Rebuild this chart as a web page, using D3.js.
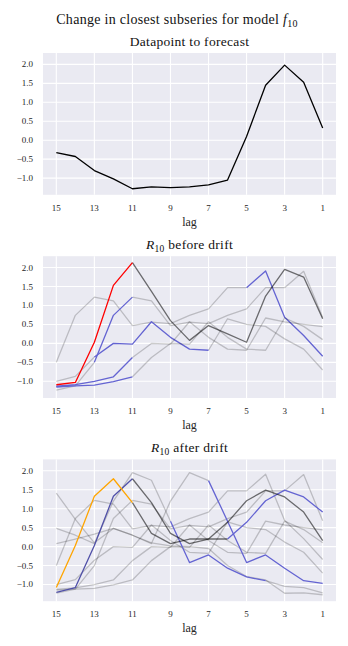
<!DOCTYPE html>
<html>
<head>
<meta charset="utf-8">
<script src="https://cdn.jsdelivr.net/npm/d3@7"></script>
<style>
  body { margin: 0; background: #fff; }
  svg { display: block; font-family: "Liberation Serif", "DejaVu Serif", serif; }
</style>
</head>
<body>
<svg width="348" height="646"></svg>
<script>
// lags shown left to right
const lags = d3.range(15, 0, -1);
const xTicks = [15, 13, 11, 9, 7, 5, 3, 1];
const yTicks = [-1.0, -0.5, 0.0, 0.5, 1.0, 1.5, 2.0];

// datapoint to forecast
const forecastPoint = [-0.33, -0.43, -0.8, -1.02, -1.28, -1.23, -1.25, -1.23, -1.18, -1.05, 0.1, 1.45, 1.98, 1.53, 0.32];

// closest subseries before drift
const beforeClosest = [-1.09, -1.03, 0.03, 1.53, 2.13, 1.37, 0.6, 0.08, 0.47, 0.25, 0.03, 1.25, 1.95, 1.75, 0.65];
const subA = [-0.5, 0.74, 1.22, 1.12, 0.47, 0.56, 0.52, 0.74, 0.91, 1.47, 1.47, 1.91, 0.69, 0.21, -0.34];
const subB = [-1.23, -1.12, -0.5, 0.74, 1.22, 1.12, 0.47, 0.56, 0.52, 0.74, 0.91, 1.47, 1.47, 1.9, 0.68];
const subC = [-1.0, -0.87, -0.36, 0.0, -0.02, 0.57, 0.16, -0.15, -0.18, 0.65, 0.5, 0.45, 0.12, -0.15, -0.7];
const subD = [-1.13, -1.09, -1.0, -0.88, -0.37, 0.0, -0.02, 0.57, 0.16, -0.15, -0.18, 0.67, 0.57, 0.5, 0.44];
const subE = [-1.15, -1.12, -1.1, -1.01, -0.88, -0.37, 0.0, -0.02, 0.57, 0.16, -0.15, -0.18, 0.67, 0.45, 0.1];

// closest subseries after drift
const afterClosest = [-1.08, 0.03, 1.33, 1.79, 1.16, 0.35, 0.08, 0.2, 0.2, 0.64, 1.21, 1.49, 1.31, 0.91, 0.16];
const subZ = [-1.21, -1.08, 0.03, 1.33, 1.79, 1.16, 0.35, 0.08, 0.2, 0.2, 0.64, 1.21, 1.49, 1.31, 0.91];
const subX = [0.48, 0.3, 0.08, 1.2, 1.95, 1.75, 0.67, -0.42, -0.22, -0.57, -0.8, -0.9, -1.05, -1.08, -1.22];
const subY = [1.41, 0.72, 0.1, 0.48, 0.3, 0.08, 1.2, 1.95, 1.74, 0.67, -0.42, -0.22, -0.57, -0.9, -0.97];
const subW = [0.08, 0.2, 0.33, 0.48, 0.3, 0.1, 0.02, 0.0, -0.05, -0.5, -0.79, -0.88, -1.23, -1.22, -1.27];

const styles = {
  black:  { stroke: "#000", opacity: 1 },
  gray:   { stroke: "#000", opacity: 0.2 },
  dark:   { stroke: "#000", opacity: 0.55 },
  blue:   { stroke: "#6464d2", opacity: 1 },
  navy:   { stroke: "#5050a8", opacity: 1 },
  red:    { stroke: "#ff0000", opacity: 1 },
  orange: { stroke: "#ffa500", opacity: 1 }
};

// segments: [from index, to index, style]
const panels = [
  { title: [["Datapoint to forecast", false]], top: 53,
    lines: [ { values: forecastPoint, segs: [[0, 14, "black"]] } ] },
  { title: [["R", true], ["10", "sub"], [" before drift", false]], top: 256.2,
    lines: [
      { values: subA, segs: [[0, 10, "gray"], [10, 14, "blue"]] },
      { values: subB, segs: [[0, 2, "gray"], [4, 14, "gray"], [2, 4, "blue"]] },
      { values: subC, segs: [[0, 2, "gray"], [8, 14, "gray"], [2, 8, "blue"]] },
      { values: subD, segs: [[4, 14, "gray"], [0, 4, "blue"]] },
      { values: subE, segs: [[4, 14, "gray"], [0, 4, "blue"]] },
      { values: beforeClosest, segs: [[4, 14, "dark"], [0, 4, "red"]] }
    ] },
  { title: [["R", true], ["10", "sub"], [" after drift", false]], top: 459.4,
    lines: [
      { values: subA, segs: [[0, 14, "gray"]] },
      { values: subB, segs: [[0, 14, "gray"]] },
      { values: subC, segs: [[0, 14, "gray"]] },
      { values: subD, segs: [[0, 14, "gray"]] },
      { values: subE, segs: [[0, 14, "gray"]] },
      { values: subW, segs: [[0, 14, "gray"]] },
      { values: subX, segs: [[0, 6, "gray"], [11, 14, "gray"], [6, 11, "blue"]] },
      { values: subY, segs: [[0, 8, "gray"], [8, 14, "blue"]] },
      { values: subZ, segs: [[4, 9, "dark"], [0, 4, "navy"], [9, 14, "blue"]] },
      { values: afterClosest, segs: [[4, 14, "dark"], [0, 4, "orange"]] }
    ] }
];

const svg = d3.select("svg");
const left = 43, right = 336, panelH = 141.8;

svg.append("text")
  .attr("x", 177).attr("y", 23.5)
  .attr("text-anchor", "middle").attr("font-size", 14).attr("letter-spacing", 0.3)
  .attr("fill", "#111")
  .call(t => {
    t.append("tspan").text("Change in closest subseries for model ");
    t.append("tspan").attr("font-style", "italic").text("f");
    t.append("tspan").attr("font-size", 10).attr("dy", 3).text("10");
  });

const x = d3.scaleLinear().domain([15.7, 0.3]).range([left, right]);

panels.forEach(p => {
  const y = d3.scaleLinear().domain([-1.44, 2.3]).range([p.top + panelH, p.top]);
  const g = svg.append("g");

  g.append("rect")
    .attr("x", left).attr("y", p.top)
    .attr("width", right - left).attr("height", panelH)
    .attr("fill", "#eaeaf2");

  g.append("g").selectAll("line").data(xTicks).join("line")
    .attr("x1", d => x(d)).attr("x2", d => x(d))
    .attr("y1", p.top).attr("y2", p.top + panelH)
    .attr("stroke", "#fff").attr("stroke-width", 1.1);
  g.append("g").selectAll("line").data(yTicks).join("line")
    .attr("x1", left).attr("x2", right)
    .attr("y1", d => y(d)).attr("y2", d => y(d))
    .attr("stroke", "#fff").attr("stroke-width", 1.1);

  g.append("g").selectAll("text").data(yTicks).join("text")
    .attr("x", 33).attr("y", d => y(d)).attr("dy", "0.33em")
    .attr("text-anchor", "end").attr("font-size", 9).attr("fill", "#262626")
    .text(d => d3.format(".1f")(d).replace("-", "\u2212"));
  g.append("g").selectAll("text").data(xTicks).join("text")
    .attr("x", d => x(d)).attr("y", p.top + panelH + 13).attr("dy", "0.33em")
    .attr("text-anchor", "middle").attr("font-size", 9).attr("fill", "#262626")
    .text(d => d);
  g.append("text")
    .attr("x", (left + right) / 2).attr("y", p.top + panelH + 27).attr("dy", "0.33em")
    .attr("text-anchor", "middle").attr("font-size", 12).attr("fill", "#262626")
    .text("lag");

  const title = g.append("text")
    .attr("x", (left + right) / 2).attr("y", p.top - 7.5)
    .attr("text-anchor", "middle").attr("font-size", 13.5).attr("letter-spacing", 0.3)
    .attr("fill", "#111");
  p.title.forEach(([s, kind]) => {
    const ts = title.append("tspan").text(s);
    if (kind === true) ts.attr("font-style", "italic");
    if (kind === "sub") ts.attr("font-size", 9.5).attr("dy", 3);
    else if (title.selectAll("tspan").size() > 2) ts.attr("dy", -3);
  });

  const line = d3.line().x(d => x(d.lag)).y(d => y(d.v));
  p.lines.forEach(l => {
    const pts = l.values.map((v, i) => ({ lag: lags[i], v }));
    l.segs.forEach(([a, b, s]) => {
      g.append("path")
        .attr("d", line(pts.slice(a, b + 1)))
        .attr("fill", "none")
        .attr("stroke", styles[s].stroke)
        .attr("stroke-opacity", styles[s].opacity)
        .attr("stroke-width", 1.3)
        .attr("stroke-linejoin", "round");
    });
  });
});
</script>
</body>
</html>
